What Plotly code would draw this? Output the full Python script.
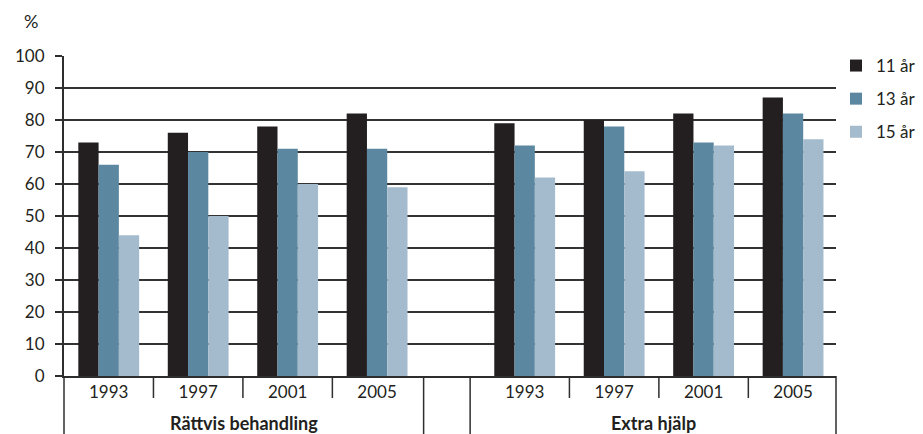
import plotly.graph_objects as go

# ---- data ----
years = ["1993", "1997", "2001", "2005"]
groups = ["Rättvis behandling", "Extra hjälp"]
series_names = ["11 år", "13 år", "15 år"]
rattvis_11 = [73, 76, 78, 82]
rattvis_13 = [66, 70, 71, 71]
rattvis_15 = [44, 50, 60, 59]
extra_11 = [79, 80, 82, 87]
extra_13 = [72, 78, 73, 82]
extra_15 = [62, 64, 72, 74]
y_ticks = list(range(0, 101, 10))

# ---- style / layout ----
colors = ["#231f20", "#5b88a0", "#a4bbcd"]
ink = "#231f20"
group_offsets = [0.0, 4.65]
x_range = [-0.5, 8.13]
group_bounds = [(-0.5, 3.52), (4.04, 8.13)]

W, H = 923, 434
ml, mr, mt, mb = 64, W - 836, 56, H - 376

x_pos = []
x_text = []
for g, off in enumerate(group_offsets):
    for i, yr in enumerate(years):
        x_pos.append(off + i)
        x_text.append(yr)

series_vals = [rattvis_11 + extra_11, rattvis_13 + extra_13, rattvis_15 + extra_15]

fig = go.Figure()
for k, name in enumerate(series_names):
    fig.add_trace(go.Bar(
        x=x_pos, y=series_vals[k], name=name,
        marker=dict(color=colors[k], line=dict(width=0)),
        legendgroup=name,
    ))


def xp(v):
    return (v - x_range[0]) / (x_range[1] - x_range[0])


plot_h = H - mt - mb
below = -mb / plot_h
shapes = []
line_col = "#2e2e2e"
# group separators (full depth)
for a, b in group_bounds:
    for v in (a, b):
        shapes.append(dict(type="line", xref="paper", yref="paper",
                           x0=xp(v), x1=xp(v), y0=0, y1=below,
                           line=dict(color=line_col, width=1.5)))
# year separators (short)
for off in group_offsets:
    for i in range(len(years) - 1):
        v = off + i + 0.5
        shapes.append(dict(type="line", xref="paper", yref="paper",
                           x0=xp(v), x1=xp(v), y0=0, y1=-22 / plot_h,
                           line=dict(color=line_col, width=1.5)))

annotations = []
for g, name in enumerate(groups):
    a, b = group_bounds[g]
    annotations.append(dict(xref="paper", yref="paper", x=xp((a + b) / 2), y=-47 / plot_h,
                            text=name, showarrow=False, xanchor="center", yanchor="middle",
                            font=dict(family="Lato", size=18, color=ink, weight="bold")))
annotations.append(dict(xref="paper", yref="paper", x=-33 / (W - ml - mr), y=1 + 35 / plot_h,
                        text="%", showarrow=False, xanchor="center", yanchor="middle",
                        font=dict(family="Lato", size=18, color=ink)))

fig.update_layout(
    width=W, height=H, autosize=False,
    margin=dict(l=ml, r=mr, t=mt, b=mb, pad=0, autoexpand=False),
    paper_bgcolor="white", plot_bgcolor="white",
    barmode="group", bargap=0.32, bargroupgap=0,
    font=dict(family="Lato", size=16, color=ink),
    showlegend=True,
    legend=dict(x=1.0, xanchor="left", y=1 + 8 / plot_h, yanchor="top",
                traceorder="grouped", tracegroupgap=8,
                font=dict(family="Lato", size=17, color=ink),
                bgcolor="rgba(0,0,0,0)", itemclick=False),
    xaxis=dict(range=x_range, tickmode="array", tickvals=x_pos, ticktext=x_text,
               ticks="", showgrid=False, zeroline=False,
               showline=True, linecolor=line_col, linewidth=2,
               tickfont=dict(family="Lato", size=17, color=ink), fixedrange=True),
    yaxis=dict(range=[0, 100], tickmode="array", tickvals=y_ticks,
               ticks="outside", ticklen=7, tickwidth=1.5, tickcolor=line_col,
               ticklabelstandoff=7,
               showgrid=True, gridcolor="#333333", gridwidth=1.5,
               showline=True, linecolor=line_col, linewidth=2,
               zeroline=False,
               tickfont=dict(family="Lato", size=17, color=ink), fixedrange=True),
    shapes=shapes, annotations=annotations,
)

fig.write_html("out.html",
               config={"displayModeBar": False},
               post_script="document.body.style.margin='0';document.body.style.padding='0';"
                           "document.body.style.overflow='hidden';")
